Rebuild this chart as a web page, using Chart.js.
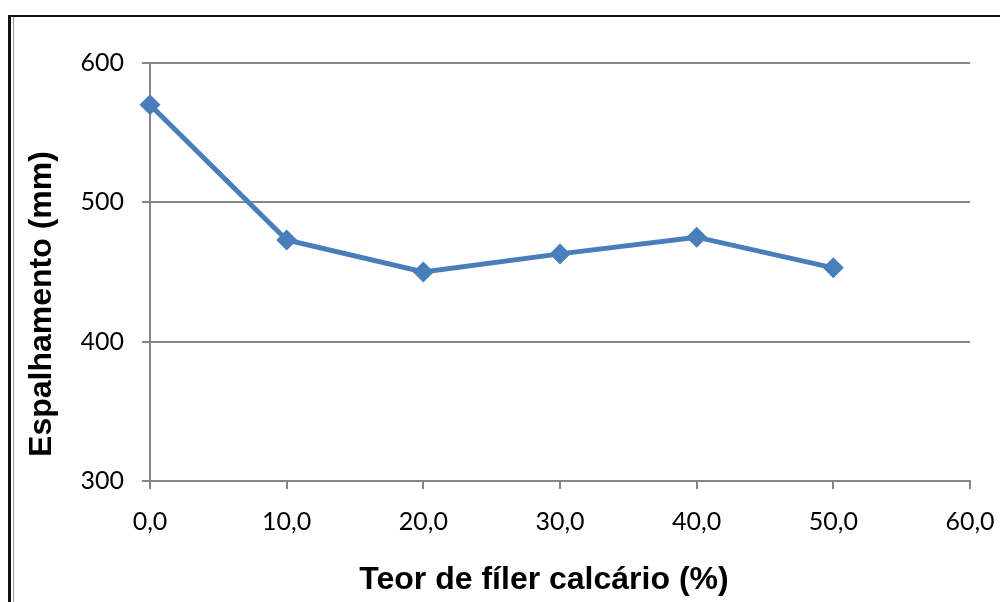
<!DOCTYPE html>
<html>
<head>
<meta charset="utf-8">
<script src="https://cdn.jsdelivr.net/npm/chart.js@4/dist/chart.umd.min.js"></script>
<style>
  html, body { margin: 0; padding: 0; background: #fff; }
  #wrap { width: 1000px; height: 602px; position: relative; }
</style>
</head>
<body>
<div id="wrap"><canvas id="myChart" width="1000" height="602"></canvas></div>
<script>
  // chart values
  let fillerContent = [0, 10, 20, 30, 40, 50];
  let spreadValues = [570, 473, 450, 463, 475, 453];
  let xTicks = [0, 10, 20, 30, 40, 50, 60];
  let yTicks = [300, 400, 500, 600];

  let xTitle = "Teor de fíler calcário (%)";
  let yTitle = "Espalhamento (mm)";

  let lineColor = "#4A7EBB";
  let gridColor = "#868686";

  // frame + axis titles drawn by hand so they sit where the original has them
  let framePlugin = {
    id: "frame",
    beforeDraw: function (chart) {
      let ctx = chart.ctx;
      ctx.save();
      ctx.fillStyle = "#fff";
      ctx.fillRect(0, 0, chart.width, chart.height);
      ctx.fillStyle = "#111";
      ctx.fillRect(8, 15, 3, chart.height - 15);
      ctx.fillRect(8, 15, chart.width - 8, 2);
      ctx.fillStyle = "#999";
      ctx.fillRect(13, 17, 1, chart.height - 17);
      ctx.restore();
    },
    afterDraw: function (chart) {
      let ctx = chart.ctx;
      ctx.save();
      ctx.fillStyle = "#000";
      ctx.font = "bold 32px 'Liberation Sans', Arial, sans-serif";
      ctx.textAlign = "center";
      ctx.textBaseline = "middle";
      ctx.fillText(xTitle, 544, 580);
      ctx.translate(42, 304);
      ctx.rotate(-Math.PI / 2);
      ctx.fillText(yTitle, 0, 0);
      ctx.restore();
    },
  };

  function fmtComma(v) {
    return Number(v).toFixed(1).replace(".", ",");
  }

  let ctx = document.getElementById("myChart").getContext("2d");
  let myChart = new Chart(ctx, {
    type: "line",
    data: {
      datasets: [
        {
          data: fillerContent.map(function (x, i) {
            return { x: x, y: spreadValues[i] };
          }),
          borderColor: lineColor,
          backgroundColor: lineColor,
          borderWidth: 5,
          pointStyle: "rectRot",
          pointRadius: 10.5,
          pointHoverRadius: 10.5,
          pointBorderWidth: 0,
          tension: 0,
          clip: false,
        },
      ],
    },
    options: {
      responsive: false,
      animation: false,
      events: [],
      layout: { padding: { top: 63, right: 30, left: 0, bottom: 0 } },
      plugins: {
        legend: { display: false },
        tooltip: { enabled: false },
      },
      scales: {
        x: {
          type: "linear",
          min: 0,
          max: 60,
          afterBuildTicks: function (axis) {
            axis.ticks = xTicks.map(function (v) { return { value: v }; });
          },
          afterFit: function (axis) {
            axis.height = 121;
            axis.paddingLeft = 0;
            axis.paddingRight = 0;
          },
          grid: {
            drawOnChartArea: false,
            drawTicks: true,
            tickLength: 8,
            color: gridColor,
            lineWidth: 2,
          },
          border: { color: gridColor, width: 2 },
          ticks: {
            color: "#000",
            padding: 18,
            maxRotation: 0,
            font: { family: "Lato, 'Open Sans', sans-serif", size: 25 },
            callback: fmtComma,
          },
        },
        y: {
          min: 300,
          max: 600,
          afterBuildTicks: function (axis) {
            axis.ticks = yTicks.map(function (v) { return { value: v }; });
          },
          afterFit: function (axis) {
            axis.width = 150;
            axis.paddingTop = 0;
            axis.paddingBottom = 0;
          },
          grid: {
            drawTicks: true,
            tickLength: 8,
            color: gridColor,
            lineWidth: 2,
          },
          border: { color: gridColor, width: 2 },
          ticks: {
            color: "#000",
            padding: 18,
            font: { family: "Lato, 'Open Sans', sans-serif", size: 25 },
          },
        },
      },
    },
    plugins: [framePlugin],
  });
</script>
</body>
</html>
